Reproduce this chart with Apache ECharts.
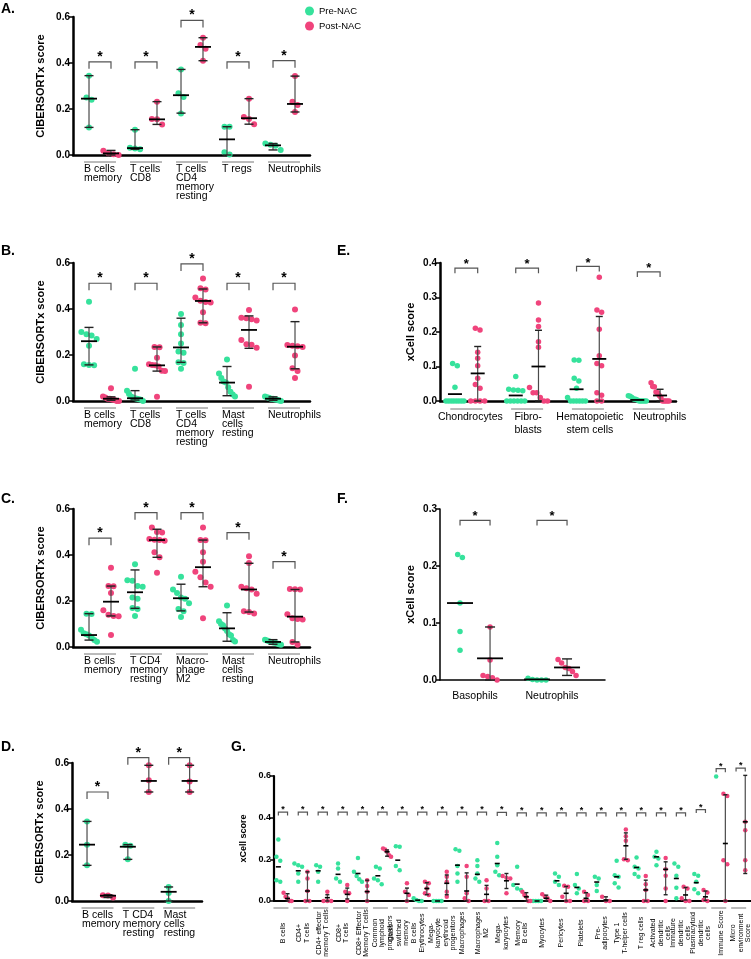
<!DOCTYPE html>
<html>
<head>
<meta charset="utf-8">
<script src="https://cdn.jsdelivr.net/npm/echarts@6/dist/echarts.min.js"></script>
<style>
  html, body { margin: 0; padding: 0; background: #fff; }
  #main { width: 751px; height: 959px; }
</style>
</head>
<body>
<div id="main"></div>
<script>
// ---- panel A (CIBERSORTx) ----
const aCats = ['B cells\nmemory', 'T cells\nCD8', 'T cells\nCD4\nmemory\nresting', 'T regs', 'Neutrophils'];
const aPre = [[0.345, 0.25, 0.24, 0.12], [0.11, 0.032, 0.028, 0.025], [0.372, 0.268, 0.252, 0.18], [0.123, 0.123, 0.012, 0.002], [0.05, 0.045, 0.04, 0.022]];
const aPost = [[0.019, 0.008, 0.003, 0.0], [0.232, 0.157, 0.155, 0.133], [0.51, 0.478, 0.462, 0.41], [0.245, 0.165, 0.157, 0.134], [0.343, 0.232, 0.217, 0.187]];
const aPreStat = [[0.245, 0.12, 0.345], [0.03, 0.025, 0.11], [0.26, 0.182, 0.372], [0.068, 0, 0.123], [0.042, 0.022, 0.05]];
const aPostStat = [[0.007, 0.0, 0.02], [0.155, 0.133, 0.232], [0.47, 0.41, 0.51], [0.16, 0.134, 0.245], [0.222, 0.187, 0.343]];
const aBracket = [0.405, 0.405, 0.585, 0.405, 0.41];

// ---- panel B ----
const bCats = ['B cells\nmemory', 'T cells\nCD8', 'T cells\nCD4\nmemory\nresting', 'Mast\ncells\nresting', 'Neutrophils'];
const bPre = [[0.432, 0.3, 0.29, 0.285, 0.27, 0.24, 0.16, 0.157, 0.155], [0.14, 0.045, 0.03, 0.02, 0.015, 0.01, 0.008, 0.005, 0.0, 0.012], [0.378, 0.33, 0.29, 0.25, 0.215, 0.21, 0.168, 0.165, 0.14], [0.18, 0.12, 0.1, 0.085, 0.08, 0.06, 0.04, 0.028, 0.02], [0.02, 0.016, 0.014, 0.01, 0.01, 0.006, 0.005, 0.002, 0.0]];
const bPost = [[0.055, 0.02, 0.015, 0.01, 0.01, 0.006, 0.004, 0.0, 0.0], [0.235, 0.234, 0.188, 0.16, 0.157, 0.155, 0.15, 0.132, 0.13, 0.018], [0.533, 0.49, 0.485, 0.45, 0.436, 0.43, 0.428, 0.386, 0.34, 0.338], [0.396, 0.362, 0.36, 0.355, 0.35, 0.265, 0.247, 0.245, 0.232, 0.062], [0.398, 0.243, 0.24, 0.238, 0.235, 0.198, 0.142, 0.13, 0.1]];
const bPreStat = [[0.26, 0.157, 0.32], [0.012, 0.004, 0.045], [0.233, 0.168, 0.36], [0.08, 0.023, 0.15], [0.01, 0.003, 0.018]];
const bPostStat = [[0.01, 0.003, 0.018], [0.155, 0.13, 0.235], [0.435, 0.34, 0.487], [0.309, 0.229, 0.37], [0.236, 0.14, 0.345]];
const bBracket = [0.512, 0.512, 0.596, 0.512, 0.512];

// ---- panel C ----
const cCats = ['B cells\nmemory', 'T CD4\nmemory\nresting', 'Macro-\nphage\nM2', 'Mast\ncells\nresting', 'Neutrophils'];
const cPre = [[0.145, 0.143, 0.075, 0.06, 0.055, 0.05, 0.04, 0.03, 0.023], [0.36, 0.29, 0.288, 0.265, 0.262, 0.215, 0.21, 0.17, 0.165, 0.135], [0.305, 0.25, 0.235, 0.215, 0.21, 0.19, 0.165, 0.155, 0.13], [0.18, 0.112, 0.1, 0.095, 0.08, 0.07, 0.055, 0.05, 0.03, 0.024], [0.032, 0.028, 0.025, 0.022, 0.02, 0.018, 0.015, 0.012, 0.01]];
const cPost = [[0.345, 0.265, 0.264, 0.235, 0.16, 0.14, 0.135, 0.134, 0.052], [0.52, 0.5, 0.498, 0.47, 0.466, 0.462, 0.465, 0.412, 0.39, 0.323], [0.52, 0.465, 0.464, 0.412, 0.371, 0.327, 0.303, 0.28, 0.262, 0.125], [0.395, 0.365, 0.262, 0.255, 0.25, 0.232, 0.155, 0.152, 0.146], [0.252, 0.25, 0.251, 0.142, 0.125, 0.122, 0.12, 0.022, 0.01]];
const cPreStat = [[0.052, 0.03, 0.145], [0.238, 0.168, 0.335], [0.212, 0.157, 0.273], [0.081, 0.025, 0.149], [0.022, 0.012, 0.032]];
const cPostStat = [[0.197, 0.135, 0.265], [0.465, 0.39, 0.512], [0.347, 0.262, 0.465], [0.25, 0.152, 0.364], [0.132, 0.022, 0.25]];
const cBracket = [0.473, 0.584, 0.584, 0.497, 0.371];

// ---- panel D ----
const dCats = ['B cells\nmemory', 'T CD4\nmemory\nresting', 'Mast\ncells\nresting'];
const dPre = [[0.346, 0.245, 0.155], [0.245, 0.24, 0.181], [0.061, 0.035, 0.0]];
const dPost = [[0.025, 0.024, 0.015], [0.59, 0.525, 0.474], [0.59, 0.52, 0.474]];
const dPreStat = [[0.245, 0.155, 0.346], [0.236, 0.181, 0.245], [0.04, 0.0, 0.061]];
const dPostStat = [[0.023, 0.015, 0.027], [0.522, 0.474, 0.59], [0.522, 0.474, 0.59]];
const dBracket = [0.474, 0.623, 0.623];

// ---- panel E (xCell) ----
const eCats = ['Chondrocytes', 'Fibro-\nblasts', 'Hematopoietic\nstem cells', 'Neutrophils'];
const ePre = [[0.109, 0.102, 0.04, 0, 0, 0, 0, 0, 0, 0, 0], [0.071, 0.034, 0.032, 0.031, 0.03, 0, 0, 0, 0, 0, 0], [0.119, 0.118, 0.066, 0.058, 0.037, 0.01, 0, 0, 0, 0, 0, 0], [0.015, 0.014, 0.01, 0.006, 0.005, 0.003, 0, 0, 0, 0, 0]];
const ePost = [[0.211, 0.206, 0.141, 0.124, 0.102, 0.066, 0.048, 0.037, 0, 0, 0, 0], [0.284, 0.235, 0.216, 0.172, 0.156, 0.039, 0.024, 0.024, 0.01, 0, 0], [0.359, 0.264, 0.257, 0.208, 0.131, 0.109, 0.102, 0.024, 0.017, 0, 0], [0.053, 0.042, 0.041, 0.026, 0.024, 0.016, 0.01, 0, 0, 0, 0, 0]];
const ePreStat = [[0.02, null, null], [0.016, null, null], [0.034, null, null], [0.003, null, null]];
const ePostStat = [[0.08, 0, 0.158], [0.1, 0, 0.205], [0.122, 0, 0.245], [0.016, 0, 0.034]];
const eBracket = [0.385, 0.385, 0.39, 0.374];

// ---- panel F ----
const fCats = ['Basophils', 'Neutrophils'];
const fPre = [[0.22, 0.215, 0.135, 0.085, 0.052], [0.003, 0.001, 0, 0, 0]];
const fPost = [[0.093, 0.035, 0.008, 0.006, 0.004, 0], [0.036, 0.03, 0.022, 0.02, 0.015, 0.008]];
const fPreStat = [[0.135, null, null], [0.001, null, null]];
const fPostStat = [[0.038, 0.0, 0.093], [0.022, 0.008, 0.037]];
const fBracket = [0.28, 0.28];

// ---- panel G ----
const gCats = ['B cells', 'CD4+\nT cells', 'CD4+ effector\nmemory T cells', 'CD8+\nT cells', 'CD8+ Effector\nMemory T cells',
  'Common\nlymphoid\nprogenitors', 'Class\nswitched\nmemory\nB cells', 'Erythrocytes', 'Mega-\nkaryocyte\nerythroid\nprogenitors',
  'Macrophages', 'Macrophages\nM2', 'Mega-\nkaryocytes', 'Memory\nB cells', 'Myocytes', 'Pericytes', 'Platelets',
  'Pre-\nadipocytes', 'Type 1\nT-helper cells', 'T reg cells', 'Activated\ndendritic\ncells', 'Immature\ndendritic\ncells',
  'Plasmacytoid\ndendritic\ncells', 'Immune Score', 'Micro\nenvironment\nScore'];
const gPre = [[0.295, 0.212, 0.193, 0.1, 0.093], [0.18, 0.172, 0.164, 0.132, 0.093], [0.172, 0.164, 0.14, 0.093], [0.18, 0.156, 0.108, 0.093],
  [0.207, 0.14, 0.12, 0.104, 0.093], [0.164, 0.156, 0.108, 0.1, 0.08], [0.263, 0.26, 0.168, 0.148], [0.013, 0.005, 0, 0], [0, 0, 0, 0],
  [0.249, 0.241, 0.168, 0.132, 0.093], [0.196, 0.168, 0.132, 0.108, 0.093], [0.279, 0.212, 0.172, 0.14, 0.124], [0.164, 0.077, 0.06, 0.053],
  [0, 0, 0, 0], [0.132, 0.116, 0.093, 0.077], [0.13, 0.077, 0.06, 0.037], [0.116, 0.108, 0.077, 0.048], [0.193, 0.124, 0.116, 0.085, 0.065],
  [0.209, 0.164, 0.156, 0.13, 0.116], [0.236, 0.212, 0.204, 0.172], [0.18, 0.164, 0.121, 0.064, 0.013], [0.13, 0.121, 0.093, 0.056, 0.037],
  [0.598], []];
const gPost = [[0.04, 0.02, 0.013, 0, 0], [0.14, 0.108, 0.048, 0, 0], [0.045, 0, 0, 0], [0.077, 0.045, 0.037, 0], [0.1, 0.072, 0.045, 0],
  [0.252, 0.247, 0.236, 0.22, 0.212], [0.085, 0.045, 0.029, 0], [0.093, 0.085, 0.06, 0.037, 0.029], [0.14, 0.116, 0.093, 0.045, 0.02],
  [0.168, 0.116, 0.037, 0.013, 0], [0.1, 0.06, 0, 0], [0.12, 0.112, 0.108, 0.037], [0.045, 0.029, 0.02, 0, 0], [0.033, 0.02, 0.013, 0],
  [0.073, 0.069, 0.02, 0, 0], [0.045, 0.029, 0, 0], [0.02, 0, 0], [0.343, 0.311, 0.289, 0.2, 0.196], [0.12, 0.081, 0.053, 0, 0],
  [0.207, 0.152, 0.121, 0.06, 0], [0.069, 0.06, 0.013, 0, 0], [0.053, 0.041, 0.005, 0], [0.515, 0.504, 0.196, 0.176, 0], [0.38, 0.34, 0.196, 0.148]];
const gPreMed = [0.164, 0.145, 0.145, 0.128, 0.132, 0.121, 0.196, 0.004, 0, 0.172, 0.128, 0.18, 0.081, 0, 0.097, 0.065, 0.091, 0.116, 0.161, 0.212, 0.108, 0.088, null, null];
const gPostStat = [[0.012, 0, 0.035], [0.048, 0, 0.14], [0.016, 0, 0.03], [0.032, 0.01, 0.062], [0.045, 0, 0.1], [0.236, 0.215, 0.245],
  [0.037, 0, 0.062], [0.06, 0.03, 0.088], [0.085, 0.03, 0.125], [0.048, 0, 0.135], [0.032, 0, 0.075], [0.097, 0.06, 0.132],
  [0.02, 0, 0.04], [0.013, 0, 0.028], [0.037, 0, 0.07], [0.013, 0, 0.04], [0.005, 0, 0.02], [0.265, 0.2, 0.327], [0.053, 0, 0.1],
  [0.152, 0.03, 0.188], [0.029, 0.005, 0.065], [0.02, 0.003, 0.048], [0.276, 0, 0.51], [0.38, 0.132, 0.603]];
const gBracket = [0.427, 0.427, 0.427, 0.427, 0.427, 0.427, 0.427, 0.427, 0.427, 0.427, 0.427, 0.425, 0.423, 0.423, 0.423, 0.423,
  0.423, 0.423, 0.423, 0.423, 0.423, 0.439, 0.635, 0.638];

const FONT = 'Liberation Sans, Arial, sans-serif';
const GREEN = '#36e29c';
const PINK = '#f0447c';

var chartDom = document.getElementById('main');
var myChart = echarts.init(chartDom);

var option = {
  animation: false,
  backgroundColor: '#fff',
  legend: {
    data: ['Pre-NAC', 'Post-NAC'],
    orient: 'vertical',
    left: 300, top: 1,
    icon: 'circle', itemWidth: 9, itemHeight: 9, itemGap: 5,
    textStyle: { fontSize: 9.5, color: '#000', fontFamily: FONT }
  },
  grid: [], xAxis: [], yAxis: [], series: [],
  graphic: [
    ['A.', 1, 2], ['B.', 1, 244], ['C.', 1, 492], ['D.', 1, 740],
    ['E.', 337, 244], ['F.', 337, 492], ['G.', 231, 740]
  ].map(function (t) {
    return { type: 'text', left: t[1], top: t[2], style: { text: t[0], font: 'bold 14px ' + FONT, fill: '#000' } };
  })
};

// spreads dots that sit at nearly the same height, like a column scatter
function spread(vals, base, thr, step, maxW) {
  var idx = vals.map(function (v, i) { return i; }).sort(function (a, b) { return vals[b] - vals[a]; });
  var out = new Array(vals.length);
  var cl = [];
  function flush() {
    var n = cl.length;
    var st = n > 1 ? Math.min(step, maxW / (n - 1)) : 0;
    cl.forEach(function (i, k) { out[i] = [base + (k - (n - 1) / 2) * st, vals[i]]; });
    cl = [];
  }
  idx.forEach(function (i) {
    if (cl.length && Math.abs(vals[cl[cl.length - 1]] - vals[i]) >= thr) flush();
    cl.push(i);
  });
  flush();
  return out;
}

function renderGroup(p, g, api) {
  var ch = [];
  function line(x1, y1, x2, y2, color, w) {
    ch.push({ type: 'line', shape: { x1: x1, y1: y1, x2: x2, y2: y2 }, style: { stroke: color, lineWidth: w } });
  }
  [[p.preStat[g], -1], [p.postStat[g], 1]].forEach(function (it) {
    var st = it[0], s = it[1];
    if (!st || st[0] == null) return;
    var x = g + s * p.off;
    var m = api.coord([x, st[0]]);
    if (st[1] != null) {
      var lo = api.coord([x, st[1]]), hi = api.coord([x, st[2]]);
      line(lo[0], lo[1], hi[0], hi[1], '#4a4a4a', 1.2);
      line(lo[0] - p.capW / 2, lo[1], lo[0] + p.capW / 2, lo[1], '#222', 1.4);
      line(hi[0] - p.capW / 2, hi[1], hi[0] + p.capW / 2, hi[1], '#222', 1.4);
    }
    line(m[0] - p.medW / 2, m[1], m[0] + p.medW / 2, m[1], '#000', p.medLW);
  });
  // significance bracket
  var b1 = api.coord([g - p.off, p.bracket[g]]), b2 = api.coord([g + p.off, p.bracket[g]]);
  ch.push({ type: 'polyline', shape: { points: [[b1[0], b1[1] + p.brTick], [b1[0], b1[1]], [b2[0], b2[1]], [b2[0], b2[1] + p.brTick]] },
    style: { stroke: '#555', lineWidth: 1.2, fill: null } });
  ch.push({ type: 'text', x: (b1[0] + b2[0]) / 2, y: b1[1] + p.starDy,
    style: { text: '*', fontSize: p.starFs, fontWeight: 'bold', fontFamily: FONT, fill: '#000', align: 'center', verticalAlign: 'bottom' } });
  // group underline and label
  var c = api.coord([g, 0]);
  if (p.ulW) line(c[0] - p.ulW + p.ulDx, c[1] + p.ulDy, c[0] + p.ulW + p.ulDx, c[1] + p.ulDy, '#777', 1);
  var dx = Array.isArray(p.labDx) ? p.labDx[g] : p.labDx;
  var ts = { text: p.cats[g], fontSize: p.labFs, fontFamily: FONT, fill: '#000', lineHeight: p.labLH };
  if (p.labMode === 'left') {
    ts.align = 'left'; ts.verticalAlign = 'top';
    ch.push({ type: 'text', x: api.coord([g - p.off, 0])[0] + dx, y: c[1] + p.labDy, style: ts });
  } else if (p.labMode === 'center') {
    ts.align = 'center'; ts.verticalAlign = 'top';
    ch.push({ type: 'text', x: c[0] + dx, y: c[1] + p.labDy, style: ts });
  } else {
    ts.align = 'center'; ts.verticalAlign = 'middle';
    ch.push({ type: 'text', x: c[0] + dx, y: c[1] + p.labDy, rotation: Math.PI / 2, style: ts });
  }
  return { type: 'group', children: ch };
}

function addPanel(p) {
  var k = option.grid.length;
  option.grid.push({ left: p.left, top: p.top, width: p.width, height: p.height });
  option.xAxis.push({
    type: 'value', gridIndex: k, min: p.xMin, max: p.xMax,
    axisLine: { show: true, onZero: false, lineStyle: { color: '#000', width: p.axisW } },
    axisTick: { show: false }, axisLabel: { show: false }, splitLine: { show: false }
  });
  option.yAxis.push({
    type: 'value', gridIndex: k, min: 0, max: p.yMax, interval: p.yInt,
    name: p.yName, nameLocation: 'middle', nameGap: p.nameGap,
    nameTextStyle: { fontSize: p.nameFs, fontWeight: 'bold', color: '#000', fontFamily: FONT },
    axisLine: { show: true, onZero: false, lineStyle: { color: '#000', width: p.axisW } },
    axisTick: { show: true, length: 4, lineStyle: { color: '#000', width: 1.5 } },
    axisLabel: { formatter: function (v) { return v.toFixed(1); }, fontSize: p.tickFs, fontWeight: 'bold', color: '#000', fontFamily: FONT, margin: 3 },
    splitLine: { show: false }
  });
  var pxX = p.width / (p.xMax - p.xMin), pxY = p.height / p.yMax;
  var thr = p.dot * 0.95 / pxY, step = p.dot * 0.85 / pxX, maxW = p.spreadW / pxX;
  function pts(arr, sign) {
    var out = [];
    arr.forEach(function (vals, g) { out = out.concat(spread(vals, g + sign * p.off, thr, step, maxW)); });
    return out;
  }
  option.series.push({ type: 'scatter', name: 'Pre-NAC', xAxisIndex: k, yAxisIndex: k, data: pts(p.pre, -1),
    symbolSize: p.dot, itemStyle: { color: GREEN, opacity: 1 }, clip: false, z: 2, silent: true });
  option.series.push({ type: 'scatter', name: 'Post-NAC', xAxisIndex: k, yAxisIndex: k, data: pts(p.post, 1),
    symbolSize: p.dot, itemStyle: { color: PINK, opacity: 1 }, clip: false, z: 2, silent: true });
  option.series.push({ type: 'custom', xAxisIndex: k, yAxisIndex: k, clip: false, z: 3, silent: true,
    data: p.cats.map(function (c, i) { return [i, 0]; }),
    renderItem: function (params, api) { return renderGroup(p, params.dataIndex, api); } });
}

var cib = { yMax: 0.6, yInt: 0.2, yName: 'CIBERSORTx score', nameGap: 27, nameFs: 11, tickFs: 10, axisW: 2.5,
  dot: 6, spreadW: 16, capW: 9, medW: 16, medLW: 1.8, brTick: 7, starFs: 14, starDy: 2,
  ulW: 16, ulDx: 0, ulDy: 7, labMode: 'left', labDx: -5, labDy: 10, labFs: 10.5, labLH: 9 };
var abcX = { left: 73, width: 237, height: 138, xMin: -0.587, xMax: 4.565, off: 0.239 };

addPanel(Object.assign({}, cib, abcX, { top: 17, cats: aCats, pre: aPre, post: aPost, preStat: aPreStat, postStat: aPostStat, bracket: aBracket }));
addPanel(Object.assign({}, cib, abcX, { top: 263, cats: bCats, pre: bPre, post: bPost, preStat: bPreStat, postStat: bPostStat, bracket: bBracket }));
addPanel(Object.assign({}, cib, abcX, { top: 509, cats: cCats, pre: cPre, post: cPost, preStat: cPreStat, postStat: cPostStat, bracket: cBracket }));
addPanel(Object.assign({}, cib, { left: 72, top: 763, width: 130, height: 138, xMin: -0.625, xMax: 2.56, off: 0.257,
  cats: dCats, pre: dPre, post: dPost, preStat: dPreStat, postStat: dPostStat, bracket: dBracket }));

var xc = { yName: 'xCell score', nameGap: 24, nameFs: 11, tickFs: 10, axisW: 2.5, dot: 5.5, spreadW: 18, capW: 7, medW: 14, medLW: 1.8,
  brTick: 5, starFs: 13, starDy: 3, ulW: 16, ulDx: 0, ulDy: 8, labMode: 'center', labDx: 0, labDy: 10, labFs: 10.5, labLH: 13 };
addPanel(Object.assign({}, xc, { left: 440, top: 263, width: 236, height: 138, yMax: 0.4, yInt: 0.1, xMin: -0.433, xMax: 3.449, off: 0.187,
  labDx: [4, 1, 2, 11],
  cats: eCats, pre: ePre, post: ePost, preStat: ePreStat, postStat: ePostStat, bracket: eBracket }));
addPanel(Object.assign({}, xc, { left: 440, top: 509, width: 165, height: 171, yMax: 0.3, yInt: 0.1, xMin: -0.455, xMax: 1.688, off: 0.195,
  axisW: 1.5, capW: 10, medW: 26, ulW: 0, labDx: 0,
  cats: fCats, pre: fPre, post: fPost, preStat: fPreStat, postStat: fPostStat, bracket: fBracket }));
addPanel(Object.assign({}, xc, { left: 274, top: 776, width: 477, height: 125, yMax: 0.6, yInt: 0.2, xMin: -0.45, xMax: 23.52, off: 0.231,
  nameGap: 24, nameFs: 9, tickFs: 9, axisW: 2.2, dot: 4.5, spreadW: 8, capW: 4, medW: 5, medLW: 1.6, brTick: 3.5, starFs: 9, starDy: 2,
  ulW: 7.5, ulDx: -2, ulDy: 7, labMode: 'rot', labDx: 0, labDy: 32, labFs: 7, labLH: 7.5,
  cats: gCats, pre: gPre, post: gPost, preStat: gPreMed.map(function (m) { return [m, null, null]; }), postStat: gPostStat, bracket: gBracket }));

option && myChart.setOption(option);
</script>
</body>
</html>
